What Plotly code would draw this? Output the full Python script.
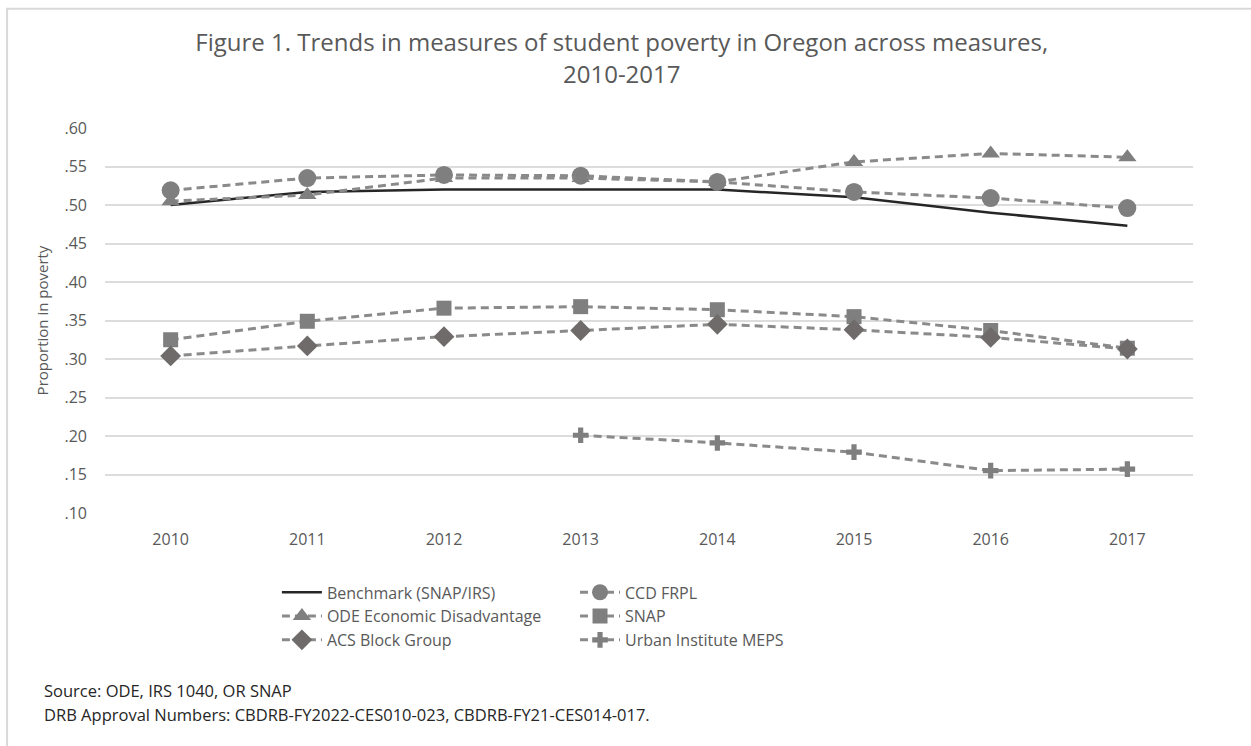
import plotly.graph_objects as go

years = ["2010", "2011", "2012", "2013", "2014", "2015", "2016", "2017"]

benchmark = [0.500, 0.517, 0.520, 0.520, 0.520, 0.510, 0.490, 0.473]
ccd_frpl = [0.519, 0.535, 0.539, 0.538, 0.530, 0.517, 0.509, 0.496]
ode_econ = [0.505, 0.513, 0.535, 0.535, 0.530, 0.556, 0.567, 0.562]
snap = [0.325, 0.349, 0.366, 0.368, 0.364, 0.355, 0.337, 0.314]
acs_block = [0.304, 0.317, 0.329, 0.337, 0.345, 0.338, 0.328, 0.313]
urban_meps = [None, None, None, 0.201, 0.191, 0.179, 0.155, 0.157]

y_ticks = [0.10, 0.15, 0.20, 0.25, 0.30, 0.35, 0.40, 0.45, 0.50, 0.55, 0.60]
y_tick_text = [".10", ".15", ".20", ".25", ".30", ".35", ".40", ".45", ".50", ".55", ".60"]

FONT = "Open Sans"
TEXT_GRAY = "#595959"
DASH_GRAY = "#8a8a8a"
MARK_GRAY = "#7f7f7f"
DASH = "8px,5px"

fig = go.Figure()

fig.add_trace(go.Scatter(
    x=years, y=benchmark, name="Benchmark (SNAP/IRS)", mode="lines",
    line=dict(color="#262626", width=2.5), legend="legend",
))
fig.add_trace(go.Scatter(
    x=years, y=ccd_frpl, name="CCD FRPL", mode="lines+markers",
    line=dict(color=DASH_GRAY, width=3, dash=DASH),
    marker=dict(symbol="circle", size=18, color=MARK_GRAY), legend="legend2",
))
fig.add_trace(go.Scatter(
    x=years, y=ode_econ, name="ODE Economic Disadvantage", mode="lines+markers",
    line=dict(color=DASH_GRAY, width=3, dash=DASH),
    marker=dict(symbol="triangle-up", size=16, color=MARK_GRAY), legend="legend",
))
fig.add_trace(go.Scatter(
    x=years, y=snap, name="SNAP", mode="lines+markers",
    line=dict(color=DASH_GRAY, width=3, dash=DASH),
    marker=dict(symbol="square", size=15, color=MARK_GRAY), legend="legend2",
))
fig.add_trace(go.Scatter(
    x=years, y=acs_block, name="ACS Block Group", mode="lines+markers",
    line=dict(color=DASH_GRAY, width=3, dash=DASH),
    marker=dict(symbol="diamond", size=16, color="#6f6b6b"), legend="legend",
))
fig.add_trace(go.Scatter(
    x=years, y=urban_meps, name="Urban Institute MEPS", mode="lines+markers",
    line=dict(color=DASH_GRAY, width=3, dash=DASH),
    marker=dict(symbol="cross", size=13, color=MARK_GRAY), legend="legend2",
))

legend_common = dict(
    orientation="v", yanchor="top", xanchor="left",
    font=dict(family=FONT, size=16, color=TEXT_GRAY),
    bgcolor="rgba(0,0,0,0)", tracegroupgap=0, itemwidth=40,
)

fig.update_layout(
    width=1251, height=746,
    margin=dict(l=105, r=58, t=128, b=233),
    paper_bgcolor="white", plot_bgcolor="white",
    font=dict(family=FONT, color=TEXT_GRAY),
    title=dict(
        text="Figure 1. Trends in measures of student poverty in Oregon across measures,<br>2010-2017",
        x=0.497, xanchor="center", y=0.931, yanchor="top",
        font=dict(family=FONT, size=24, color=TEXT_GRAY),
    ),
    xaxis=dict(
        type="category", showgrid=False, showline=False, zeroline=False,
        ticks="", ticklabelstandoff=15,
        tickfont=dict(family=FONT, size=16, color=TEXT_GRAY),
    ),
    yaxis=dict(
        range=[0.10, 0.60], tickvals=y_ticks, ticktext=y_tick_text,
        showgrid=True, gridcolor="#dcdcdc", gridwidth=1.5,
        zeroline=False, showline=False, ticks="", ticklabelstandoff=17,
        tickfont=dict(family=FONT, size=16, color=TEXT_GRAY),
        title=dict(text="Proportion in poverty", standoff=12,
                   font=dict(family=FONT, size=15, color=TEXT_GRAY)),
    ),
    legend=dict(x=0.158, y=-0.162, **legend_common),
    legend2=dict(x=0.432, y=-0.162, **legend_common),
    shapes=[
        dict(type="rect", xref="paper", yref="paper",
             x0=-0.09, x1=1.2, y0=-1.0, y1=1.31,
             line=dict(color="#d9d9d9", width=2), fillcolor="rgba(0,0,0,0)"),
    ],
    annotations=[
        dict(text="Source: ODE, IRS 1040, OR SNAP", xref="paper", yref="paper",
             x=-0.058, y=-0.462, xanchor="left", yanchor="middle", showarrow=False,
             font=dict(family=FONT, size=16.5, color="#262626")),
        dict(text="DRB Approval Numbers: CBDRB-FY2022-CES010-023, CBDRB-FY21-CES014-017.",
             xref="paper", yref="paper",
             x=-0.058, y=-0.524, xanchor="left", yanchor="middle", showarrow=False,
             font=dict(family=FONT, size=16.5, color="#262626")),
    ],
)

fig.write_html("out.html")
